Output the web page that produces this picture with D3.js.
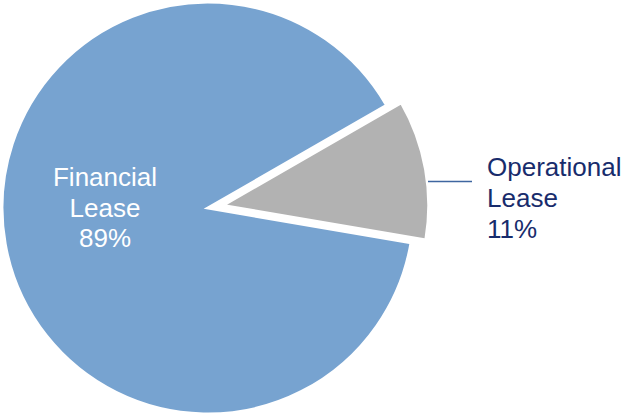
<!DOCTYPE html>
<html>
<head>
<meta charset="utf-8">
<script src="https://cdn.jsdelivr.net/npm/d3@7"></script>
<style>
  html, body { margin: 0; padding: 0; background: #fff; }
  svg { display: block; }
  text { font-family: "Liberation Sans", Arial, sans-serif; }
</style>
</head>
<body>
<svg id="chart" width="623" height="414"></svg>
<script>
const categories = ["Financial", "Operational"];
const labelLines = [["Financial", "Lease"], ["Operational", "Lease"]];
const values = [89, 11];
const percentLabels = ["89%", "11%"];
const colors = ["#77A3D0", "#B2B2B2"];

const width = 623, height = 414;
const cx = 208, cy = 208, radius = 206;
const explode = [0, 15];

const svg = d3.select("#chart");
const g = svg.append("g").attr("transform", `translate(${cx},${cy})`);

const startDeg = 99.7;
const pie = d3.pie().sort(null).value(d => d)
  .startAngle(startDeg * Math.PI / 180)
  .endAngle(startDeg * Math.PI / 180 + 2 * Math.PI);
const arcs = pie(values);
const arc = d3.arc().innerRadius(0).outerRadius(radius);

g.selectAll("path.slice")
  .data(arcs)
  .join("path")
  .attr("class", "slice")
  .attr("d", arc)
  .attr("fill", (d, i) => colors[i])
  .attr("stroke", "#fff")
  .attr("stroke-width", 3)
  .attr("stroke-linejoin", "miter")
  .attr("transform", (d, i) => {
    const mid = (d.startAngle + d.endAngle) / 2;
    return `translate(${explode[i] * Math.sin(mid)},${-explode[i] * Math.cos(mid)})`;
  });

// Financial label (inside, white)
const fin = g.append("text")
  .attr("text-anchor", "middle")
  .attr("fill", "#fff")
  .attr("font-size", 26);
const finLines = [...labelLines[0], percentLabels[0]];
finLines.forEach((t, k) => {
  fin.append("tspan").attr("x", -103).attr("y", -22 + k * 30.5).text(t);
});

// Operational label (outside, navy) with leader line
const op = arcs[1];
const opMid = (op.startAngle + op.endAngle) / 2;
const lineY = -26.5;
const lineX0 = 220, lineX1 = 264;
g.append("line")
  .attr("x1", lineX0).attr("y1", lineY)
  .attr("x2", lineX1).attr("y2", lineY)
  .attr("stroke", "#3E66A0")
  .attr("stroke-width", 1.6);

const opText = g.append("text")
  .attr("text-anchor", "start")
  .attr("fill", "#182C6C")
  .attr("font-size", 26);
const opLines = [...labelLines[1], percentLabels[1]];
opLines.forEach((t, k) => {
  opText.append("tspan").attr("x", 279).attr("y", -32.5 + k * 31).text(t);
});
</script>
</body>
</html>
